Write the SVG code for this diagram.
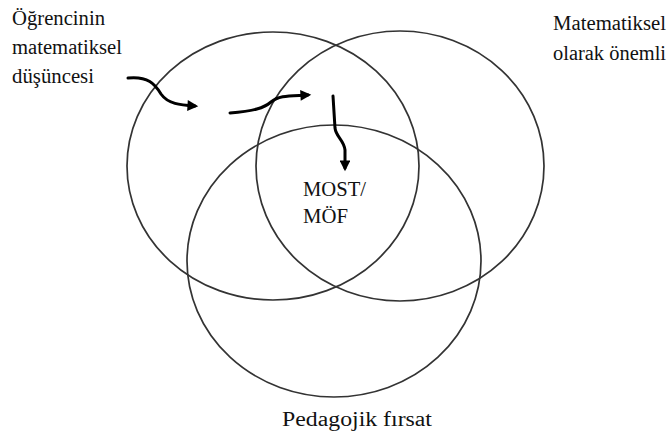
<svg xmlns="http://www.w3.org/2000/svg" width="669" height="435" viewBox="0 0 669 435">
  <style>
    .ring { fill: none; stroke: #333; stroke-width: 1.7; }
    .flow { fill: none; stroke: #000; stroke-width: 3; stroke-linecap: round; }
    .lbl { font-family: "Liberation Serif", "DejaVu Serif", "Noto Serif", serif; font-size: 20.5px; fill: #111; }
  </style>
  <defs>
    <marker id="head" viewBox="0 0 10 10" refX="7" refY="5" markerWidth="4.6" markerHeight="3.6" orient="auto" markerUnits="strokeWidth">
      <path d="M0,0 L10,5 L0,10 Z" fill="#000"/>
    </marker>
  </defs>

  <!-- three overlapping sets -->
  <g id="set-student">
    <ellipse class="ring" cx="273" cy="166" rx="146" ry="134"/>
  </g>
  <g id="set-math">
    <ellipse class="ring" cx="400" cy="166" rx="144" ry="135"/>
  </g>
  <g id="set-pedagogy">
    <ellipse class="ring" cx="334" cy="261" rx="147" ry="136"/>
  </g>

  <!-- labels -->
  <g id="label-student">
    <text class="lbl" font-family="Liberation Serif, serif" x="12" y="25" textLength="93" lengthAdjust="spacingAndGlyphs">Öğrencinin</text>
    <text class="lbl" font-family="Liberation Serif, serif" x="12" y="54" textLength="110" lengthAdjust="spacingAndGlyphs">matematiksel</text>
    <text class="lbl" font-family="Liberation Serif, serif" x="12" y="83" textLength="82" lengthAdjust="spacingAndGlyphs">düşüncesi</text>
  </g>
  <g id="label-math">
    <text class="lbl" x="553" y="30" textLength="113" lengthAdjust="spacingAndGlyphs">Matematiksel</text>
    <text class="lbl" x="553" y="60" textLength="113" lengthAdjust="spacingAndGlyphs">olarak önemli</text>
  </g>
  <g id="label-pedagogy">
    <text class="lbl" x="282" y="426" textLength="150" lengthAdjust="spacingAndGlyphs">Pedagojik fırsat</text>
  </g>
  <g id="label-most">
    <text class="lbl" x="303" y="196" textLength="63" lengthAdjust="spacingAndGlyphs">MOST/</text>
    <text class="lbl" x="303" y="223" textLength="45" lengthAdjust="spacingAndGlyphs">MÖF</text>
  </g>

  <!-- connectors -->
  <g id="connectors">
    <path class="flow" marker-end="url(#head)" d="M128,78 C148,76 155,84 161,94 C168,104 180,105 195,106"/>
    <path class="flow" marker-end="url(#head)" d="M230,113 C254,111 264,108 271,102 C279,95 290,96 308,95"/>
    <path class="flow" marker-end="url(#head)" d="M333,96 L335,128 C336,137 344,140 345,150 L345,168"/>
  </g>
</svg>
